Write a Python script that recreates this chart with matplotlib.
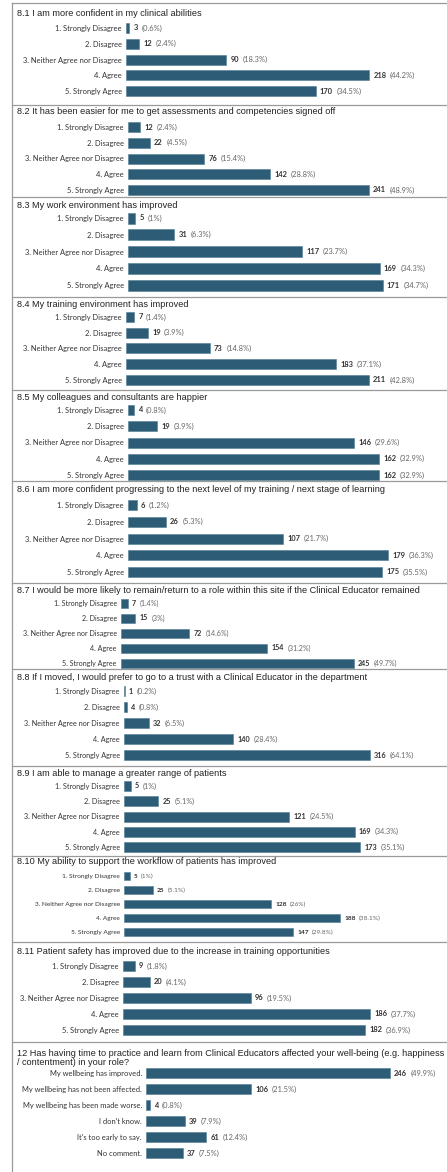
import matplotlib.pyplot as plt
from matplotlib.lines import Line2D

# survey results, 493 respondents
N = 493
likert = ["1. Strongly Disagree", "2. Disagree", "3. Neither Agree nor Disagree",
          "4. Agree", "5. Strongly Agree"]
wellbeing = ["My wellbeing has improved.", "My wellbeing has not been affected.",
             "My wellbeing has been made worse.", "I don't know.",
             "It's too early to say.", "No comment."]

titles = [
    "8.1 I am more confident in my clinical abilities",
    "8.2 It has been easier for me to get assessments and competencies signed off",
    "8.3 My work environment has improved",
    "8.4 My training environment has improved",
    "8.5 My colleagues and consultants are happier",
    "8.6 I am more confident progressing to the next level of my training / next stage of learning",
    "8.7 I would be more likely to remain/return to a role within this site if the Clinical Educator remained",
    "8.8 If I moved, I would prefer to go to a trust with a Clinical Educator in the department",
    "8.9 I am able to manage a greater range of patients",
    "8.10 My ability to support the workflow of patients has improved",
    "8.11 Patient safety has improved due to the increase in training opportunities",
    "12 Has having time to practice and learn from Clinical Educators affected your well-being (e.g. happiness\n/ contentment) in your role?",
]

counts = [
    [3, 12, 90, 218, 170],
    [12, 22, 76, 142, 241],
    [5, 31, 117, 169, 171],
    [7, 19, 73, 183, 211],
    [4, 19, 146, 162, 162],
    [6, 26, 107, 179, 175],
    [7, 15, 72, 154, 245],
    [1, 4, 32, 140, 316],
    [5, 25, 121, 169, 173],
    [5, 25, 128, 188, 147],
    [9, 20, 96, 186, 182],
    [246, 106, 4, 39, 61, 37],
]
categories = [likert] * 11 + [wellbeing]

# layout of each screenshot panel in pixels:
# title y, bar start x, px per count, first bar y, last bar y, bar height, label size
layout = [
    (14, 126, 1.116, 28, 91, 10, 5.4),
    (112, 128, 1.0, 127, 190, 10, 5.4),
    (205, 128, 1.49, 218, 285, 11, 5.4),
    (305, 126, 1.15, 317, 380, 10, 5.4),
    (397, 128, 1.55, 410, 475, 10, 5.4),
    (490, 128, 1.452, 505, 572, 10, 5.4),
    (590, 121, 0.95, 603, 663, 9, 5.1),
    (677, 124, 0.778, 691, 755, 10, 5.2),
    (773, 124, 1.365, 786, 847, 10, 5.2),
    (862, 124, 1.15, 876, 932, 8, 4.65),
    (951, 123, 1.33, 966, 1030, 10, 5.4),
    (1049, 146, 0.99, 1073, 1153, 10, 5.4),
]
separators = [3, 105, 197, 297, 390, 481, 583, 669, 766, 856, 942, 1042]

W, H = 447, 1172
BAR = "#2d5d76"

fig = plt.figure(figsize=(W / 100, H / 100), dpi=100)
fig.patch.set_facecolor("white")


def pct(c):
    return f"{c / N * 100:.1f}".rstrip("0").rstrip(".") + "%"


for title, cats, vals, (ty, x0, scale, yf, yl, bh, fs) in zip(titles, categories, counts, layout):
    n = len(vals)
    d = (yl - yf) / (n - 1)
    top = yf - d / 2
    ax = fig.add_axes([x0 / W, 1 - (top + d * n) / H, (W - x0) / W, d * n / H])
    ax.barh(range(n), vals, height=bh / d, color=BAR, edgecolor="#4f7d94", linewidth=0.4)
    ax.set_xlim(0, (W - x0) / scale)
    ax.set_ylim(n - 0.5, -0.5)
    ax.set_yticks(range(n), labels=cats, fontsize=fs, family="Lato", color="#333333")
    ax.tick_params(axis="y", length=0, pad=3)
    ax.set_xticks([])
    for s in ax.spines.values():
        s.set_visible(False)
    ax.patch.set_visible(False)
    for j, v in enumerate(vals):
        t = ax.annotate(str(v), xy=(v, j), xytext=(3, 0), textcoords="offset points",
                        va="center", fontsize=fs, fontweight="bold", family="Lato",
                        color="#333333")
        ax.annotate(f"({pct(v)})", xy=(1, 0.5), xycoords=t, xytext=(2.5, 0),
                    textcoords="offset points", va="center", fontsize=fs,
                    family="Lato", color="#666666")
    fig.text(17 / W, 1 - ty / H, title, va="top" if "\n" in title else "center",
             ha="left", fontsize=6.6, family="Liberation Sans", color="#222222",
             linespacing=1.05)

# panel frames
for y in separators:
    fig.add_artist(Line2D([12 / W, 1], [1 - y / H] * 2, color="#9a9a9a", lw=0.9))
fig.add_artist(Line2D([12 / W] * 2, [1 - 3 / H, 0], color="#9a9a9a", lw=0.9))

plt.savefig("out.png", dpi=100)
